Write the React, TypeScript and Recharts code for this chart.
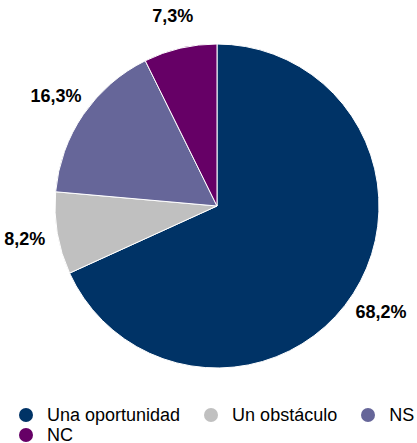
import { PieChart, Pie, Cell, Legend } from "recharts";

const categories = ["Una oportunidad", "Un obstáculo", "NS", "NC"];
const values = [68.2, 8.2, 16.3, 7.3];
const labels = ["68,2%", "8,2%", "16,3%", "7,3%"];
const colors = ["#003366", "#c0c0c0", "#666699", "#660066"];

const data = categories.map((name, i) => ({ name, value: values[i], label: labels[i] }));

const RAD = Math.PI / 180;

function renderLabel(props: any) {
    const { cx, cy, midAngle, outerRadius, index } = props;
    const r = outerRadius + 33;
    const x = cx + r * Math.cos(-midAngle * RAD);
    const y = cy + r * Math.sin(-midAngle * RAD);
    return (
        <text
            x={x}
            y={y}
            textAnchor="middle"
            dominantBaseline="central"
            fill="#000"
            style={{ fontSize: 18, fontWeight: 700, fontFamily: "'Liberation Sans', Arial, sans-serif" }}
        >
            {labels[index]}
        </text>
    );
}

function LegendContent() {
    return (
        <div
            style={{
                display: "flex",
                flexWrap: "wrap",
                columnGap: 24,
                paddingLeft: 19,
                boxSizing: "border-box",
                width: 417,
                fontFamily: "'Liberation Sans', Arial, sans-serif",
                fontSize: 18,
                lineHeight: "20px",
                color: "#000",
            }}
        >
            {categories.map((c, i) => (
                <div key={c} style={{ display: "flex", alignItems: "center", whiteSpace: "nowrap" }}>
                    <span
                        style={{
                            width: 14,
                            height: 14,
                            borderRadius: "50%",
                            background: colors[i],
                            marginRight: 14,
                            display: "inline-block",
                        }}
                    />
                    <span>{c}</span>
                </div>
            ))}
        </div>
    );
}

export default function App() {
    return (
        <div style={{ position: "absolute", left: 0, top: 0, width: 417, height: 443, background: "#fff", overflow: "hidden" }}>
            <PieChart width={417} height={443} margin={{ top: 0, right: 0, bottom: 0, left: 0 }}>
                <Pie
                    data={data}
                    dataKey="value"
                    cx={217}
                    cy={206}
                    outerRadius={162}
                    startAngle={90}
                    endAngle={-270}
                    stroke="#ffffff"
                    strokeWidth={1}
                    label={renderLabel}
                    labelLine={false}
                    isAnimationActive={false}
                >
                    {data.map((d, i) => (
                        <Cell key={d.name} fill={colors[i]} />
                    ))}
                </Pie>
                <Legend
                    content={<LegendContent />}
                    wrapperStyle={{ position: "absolute", top: 405, left: 0, width: 417 }}
                />
            </PieChart>
        </div>
    );
}
